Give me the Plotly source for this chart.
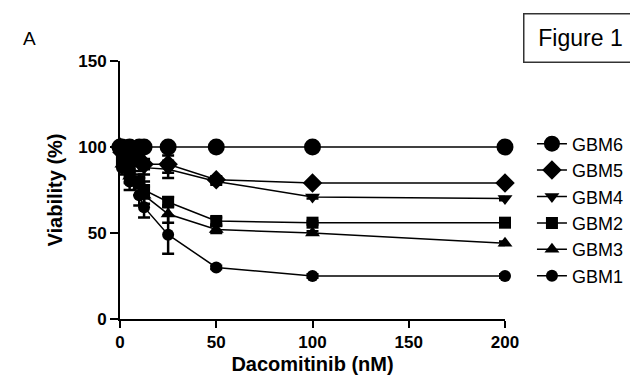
import plotly.graph_objects as go

doses = [0, 1, 5, 10, 12.5, 25, 50, 100, 200]

series_names = ["GBM6", "GBM5", "GBM4", "GBM2", "GBM3", "GBM1"]
gbm6 = [100, 100, 100, 100, 100, 100, 100, 100, 100]
gbm5 = [100, 97, 94, 92, 90, 90, 81, 79, 79]
gbm4 = [100, 96, 92, 90, 88, 87, 80, 71, 70]
gbm2 = [100, 92, 86, 80, 75, 68, 57, 56, 56]
gbm3 = [100, 90, 83, 77, 72, 61, 52, 50, 44]
gbm1 = [100, 88, 80, 72, 65, 49, 30, 25, 25]

err6 = [0, 0, 0, 0, 0, 0, 0, 0, 0]
err5 = [0, 2, 3, 3, 3, 5, 2, 1, 1]
err4 = [0, 3, 3, 4, 4, 5, 2, 1, 1]
err2 = [0, 3, 4, 4, 5, 3, 2, 1, 1]
err3 = [0, 3, 4, 5, 5, 5, 2, 1, 1]
err1 = [0, 4, 5, 6, 6, 11, 1, 1, 1]

x_ticks = [0, 50, 100, 150, 200]
y_ticks = [0, 50, 100, 150]

values = [gbm6, gbm5, gbm4, gbm2, gbm3, gbm1]
errors = [err6, err5, err4, err2, err3, err1]
symbols = ["circle", "diamond", "triangle-down", "square", "triangle-up", "circle"]
sizes = [17, 15, 13, 12, 13, 12]

fig = go.Figure()
for name, y, e, sym, sz in zip(series_names, values, errors, symbols, sizes):
    fig.add_trace(go.Scatter(
        x=doses, y=y, name=name, mode="lines+markers",
        line=dict(color="black", width=1.5),
        marker=dict(symbol=sym, size=sz, color="black"),
        error_y=dict(type="data", array=e, color="black", thickness=2.5, width=6),
        cliponaxis=False,
    ))

fig.update_layout(
    width=638, height=378,
    margin=dict(l=112, r=141, t=53, b=67),
    paper_bgcolor="white", plot_bgcolor="white",
    font=dict(family="Liberation Sans, Arial, sans-serif", color="black"),
    showlegend=True,
    legend=dict(x=1.07, y=0.75, xanchor="left", yanchor="top",
                font=dict(size=18, color="black"), tracegroupgap=0,
                bgcolor="rgba(0,0,0,0)"),
    xaxis=dict(range=[0, 200], tickvals=x_ticks,
               ticktext=[f"<b>{v}</b>" for v in x_ticks],
               showgrid=False, zeroline=False, showline=True, linecolor="black",
               linewidth=2, ticks="outside", ticklen=7, tickwidth=2, tickcolor="black",
               tickfont=dict(size=17),
               title=dict(text="<b>Dacomitinib (nM)</b>", font=dict(size=20), standoff=6)),
    yaxis=dict(range=[0, 150], tickvals=y_ticks,
               ticktext=[f"<b>{v}</b>" for v in y_ticks],
               showgrid=False, zeroline=False, showline=True, linecolor="black",
               linewidth=2, ticks="outside", ticklen=8, tickwidth=2, tickcolor="black",
               tickfont=dict(size=17),
               title=dict(text="<b>Viability (%)</b>", font=dict(size=20), standoff=10)),
    annotations=[
        dict(text="Figure 1", xref="paper", yref="paper", x=1.195, y=1.09,
             xanchor="center", yanchor="middle", showarrow=False,
             width=92, height=27,
             font=dict(size=23, color="black"), bordercolor="#333", borderwidth=1.5,
             borderpad=10, bgcolor="white"),
        dict(text="A", xref="paper", yref="paper", x=-0.257, y=1.089,
             xanchor="left", yanchor="middle", showarrow=False,
             font=dict(size=19, color="black")),
    ],
)

fig.write_html("out.html")
